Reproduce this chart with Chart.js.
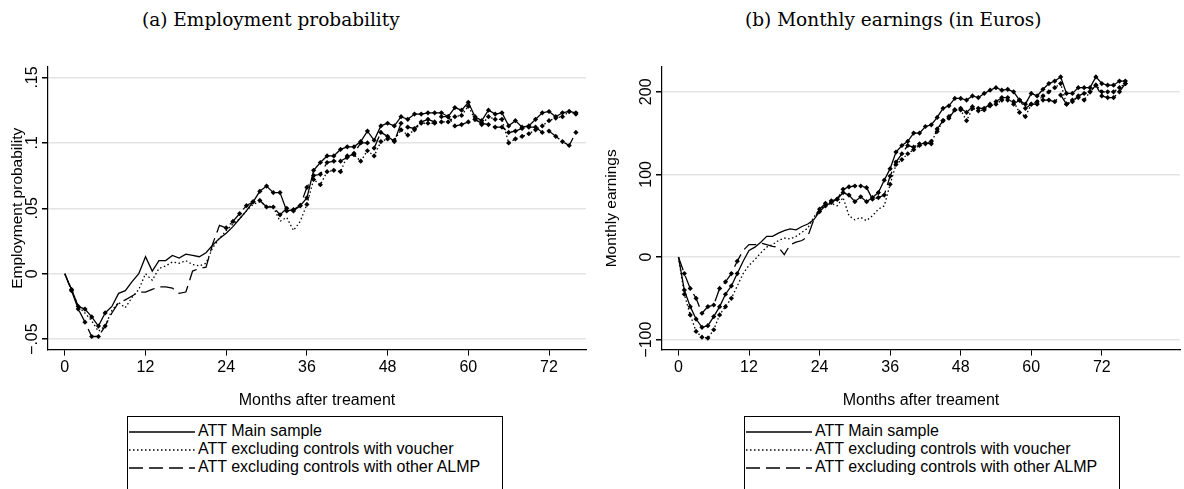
<!DOCTYPE html>
<html><head><meta charset="utf-8">
<script src="https://cdn.jsdelivr.net/npm/chart.js@4/dist/chart.umd.min.js"></script>
<style>
body{margin:0;width:1184px;height:489px;overflow:hidden;background:#fff;position:relative;font-family:"Liberation Sans",Arial,sans-serif}
.t{position:absolute;top:9px;font-family:"DejaVu Serif","Liberation Serif",serif;font-size:18.5px;color:#000;white-space:nowrap}
.cv{position:absolute;top:58px}
.leg{position:absolute;top:416px;width:376px;height:80px;border:1px solid #000;box-sizing:border-box}
.row{position:absolute;left:0;height:18px;font-size:16px;color:#000;white-space:nowrap}
.row svg{position:absolute;left:1px;top:4px}
.row span{position:absolute;left:70px;top:-1px}
</style></head><body>
<div class="t" style="left:142px">(a) Employment probability</div>
<div class="t" style="left:745px">(b) Monthly earnings (in Euros)</div>
<div class="cv" style="left:0;width:590px;height:352px"><canvas id="c1"></canvas></div>
<div class="cv" style="left:594px;width:590px;height:352px"><canvas id="c2"></canvas></div>
<div class="leg" id="l1" style="left:127px"></div>
<div class="leg" id="l2" style="left:744px"></div>
<script>
const months = Array.from({length:77},(_,i)=>i);
const legendLabels = ["ATT Main sample","ATT excluding controls with voucher","ATT excluding controls with other ALMP"];

const empMain = [0,-.012,-.025,-.027,-.033,-.040,-.030,-.025,-.015,-.013,-.006,0,.013,.002,.010,.010,.014,.012,.015,.014,.013,.016,.022,.027,.031,.036,.042,.048,.055,.063,.067,.062,.062,.048,.049,.052,.058,.079,.085,.090,.090,.095,.097,.097,.101,.109,.102,.113,.115,.113,.120,.118,.122,.122,.123,.123,.123,.120,.127,.125,.131,.120,.117,.125,.122,.123,.113,.117,.112,.113,.118,.123,.124,.120,.123,.124,.123];
const empVoucher = [0,-.012,-.025,-.030,-.036,-.044,-.040,-.028,-.022,-.026,-.018,-.012,0,-.005,.004,.006,.009,.008,.010,.007,.006,.008,.020,.027,.033,.038,.042,.048,.053,.055,.052,.051,.040,.043,.033,.040,.053,.072,.068,.078,.079,.078,.090,.091,.086,.094,.090,.101,.103,.102,.110,.106,.110,.115,.115,.115,.116,.116,.120,.121,.128,.118,.114,.120,.118,.118,.100,.103,.105,.107,.110,.113,.117,.119,.120,.124,.122];
const empAlmp = [0,-.013,-.027,-.037,-.048,-.048,-.040,-.030,-.022,-.020,-.017,-.014,-.014,-.012,-.010,-.010,-.011,-.015,-.014,.002,.004,.005,.023,.037,.035,.040,.046,.052,.055,.056,.051,.051,.045,.050,.048,.052,.066,.075,.076,.085,.086,.086,.089,.092,.100,.100,.096,.108,.105,.101,.115,.112,.111,.116,.118,.116,.120,.120,.113,.114,.116,.118,.115,.114,.112,.112,.108,.109,.111,.112,.112,.108,.109,.105,.101,.098,.108];

const earnMain = [0,-40,-60,-75,-85,-83,-72,-60,-45,-35,-20,-5,8,12,18,25,25,29,32,34,33,37,40,45,55,62,66,70,78,75,67,73,67,72,78,93,107,127,135,140,150,150,158,160,169,180,183,192,192,190,195,193,198,202,205,202,203,200,190,185,198,195,203,210,213,218,198,198,205,205,205,218,210,208,208,213,213];
const earnVoucher = [0,-45,-70,-90,-97,-98,-88,-70,-60,-50,-35,-20,-10,-3,5,12,15,20,23,22,25,30,35,48,58,62,65,62,72,50,45,48,44,50,58,62,88,112,118,125,130,135,137,140,152,165,170,178,178,165,180,177,178,183,185,190,190,188,175,170,185,188,195,200,205,210,185,190,193,190,200,208,200,200,200,205,210];
const earnAlmp = [0,-20,-38,-50,-68,-60,-58,-38,-30,-20,-5,8,15,15,17,15,13,12,3,15,18,20,25,45,58,65,68,70,82,85,86,86,84,70,72,75,98,115,125,135,133,137,138,137,155,165,168,178,180,175,182,180,180,185,188,193,193,185,190,180,185,185,190,190,188,196,185,188,195,198,200,208,195,193,193,200,210];

// months with a significance marker (first month of marked stretch, and unmarked stretch)
const empMarkFrom = [1,36,1];
const earnMarkFrom = [1,1,1];
const empMarkSkip = [[7,27],[7,35],[7,23]];
const earnMarkSkip = [[11,23],[10,35],[11,23]];

const empTicks = [-0.05,0,0.05,0.1,0.15];
const empTickLabels = ["\u2212.05","0",".05",".1",".15"];
const earnTicks = [-100,0,100,200];
const earnTickLabels = ["\u2212100","0","100","200"];
const xTicks = [0,12,24,36,48,60,72];

const dashes = [[],[1.5,2.5],[14,6]];
const FONT = '"Liberation Sans", Arial, sans-serif';

function radii(markFrom, skip){
  return months.map(m => (m>=markFrom && !(m>=skip[0] && m<=skip[1])) ? 2.6 : 0);
}

const rotTicks = {
  id:'rotTicks',
  afterDraw(c){
    const y=c.scales.y, ctx=c.ctx, o=c.options.plugins.rotTicks;
    ctx.save();ctx.fillStyle='#000';ctx.font='16px '+FONT;
    ctx.textAlign='center';ctx.textBaseline='bottom';
    o.ticks.forEach((v,i)=>{
      const py=y.getPixelForValue(v);
      ctx.save();ctx.translate(y.right-7,py);ctx.rotate(-Math.PI/2);
      ctx.fillText(o.labels[i],0,0);ctx.restore();
    });
    ctx.restore();
  }
};

function make(id, series, marks, skips, ymin, ymax, ticks, labels, ytitle, yw, xmin, xmax, rpad, lpad){
  const ds = series.map((d,i)=>({
    data:d, borderColor:'#000', backgroundColor:'#000', borderWidth:1.3, borderDash:dashes[i],
    pointRadius:radii(marks[i],skips[i]), pointStyle:'rectRot', pointBorderWidth:0, tension:0
  }));
  new Chart(document.getElementById(id),{
    type:'line',
    data:{labels:months, datasets:ds},
    plugins:[rotTicks],
    options:{
      responsive:true, maintainAspectRatio:false, animation:false,
      layout:{padding:{top:9,right:rpad,left:lpad,bottom:0}},
      plugins:{legend:{display:false},tooltip:{enabled:false},rotTicks:{ticks,labels}},
      scales:{
        x:{type:'linear',min:xmin,max:xmax,
          afterBuildTicks:s=>{s.ticks=xTicks.map(v=>({value:v}));},
          grid:{drawOnChartArea:false,tickLength:6,color:'#000',tickColor:'#000'},
          border:{color:'#000',width:1.2},
          ticks:{color:'#000',font:{size:16,family:FONT},maxRotation:0,padding:2,callback:v=>v},
          title:{display:true,text:'Months after treament',color:'#000',font:{size:16,family:FONT},padding:{top:12,bottom:0}}
        },
        y:{min:ymin,max:ymax,
          afterBuildTicks:s=>{s.ticks=ticks.map(v=>({value:v}));},
          afterFit:s=>{s.width=yw;},
          grid:{color:'#e4e4e4',lineWidth:1.5,tickLength:6,tickColor:'#000'},
          border:{color:'#000',width:1.2},
          ticks:{display:true,color:'rgba(0,0,0,0)',font:{size:1},padding:0},
          title:{display:true,text:ytitle,color:'#000',font:{size:15.5,family:FONT},padding:{top:0,bottom:0}}
        }
      }
    }
  });
}

make('c1',[empMain,empVoucher,empAlmp],empMarkFrom,empMarkSkip,-0.058,0.158,empTicks,empTickLabels,'Employment probability',40,-2.5,77.5,4,8);
make('c2',[earnMain,earnVoucher,earnAlmp],earnMarkFrom,earnMarkSkip,-112,230,earnTicks,earnTickLabels,'Monthly earnings',60,-2.8,85.3,0,8);

function legend(id){
  const el=document.getElementById(id);
  const tops=[6,24,42];
  legendLabels.forEach((t,i)=>{
    const r=document.createElement('div');r.className='row';r.style.top=tops[i]+'px';r.style.width='360px';
    const da=dashes[i].length?`stroke-dasharray="${dashes[i].join(' ')}"`:'';
    r.innerHTML=`<svg width="66" height="10"><line x1="0" y1="5" x2="66" y2="5" stroke="#000" stroke-width="1.3" ${da}/></svg><span>${t}</span>`;
    el.appendChild(r);
  });
}
legend('l1');legend('l2');
</script>
</body></html>
